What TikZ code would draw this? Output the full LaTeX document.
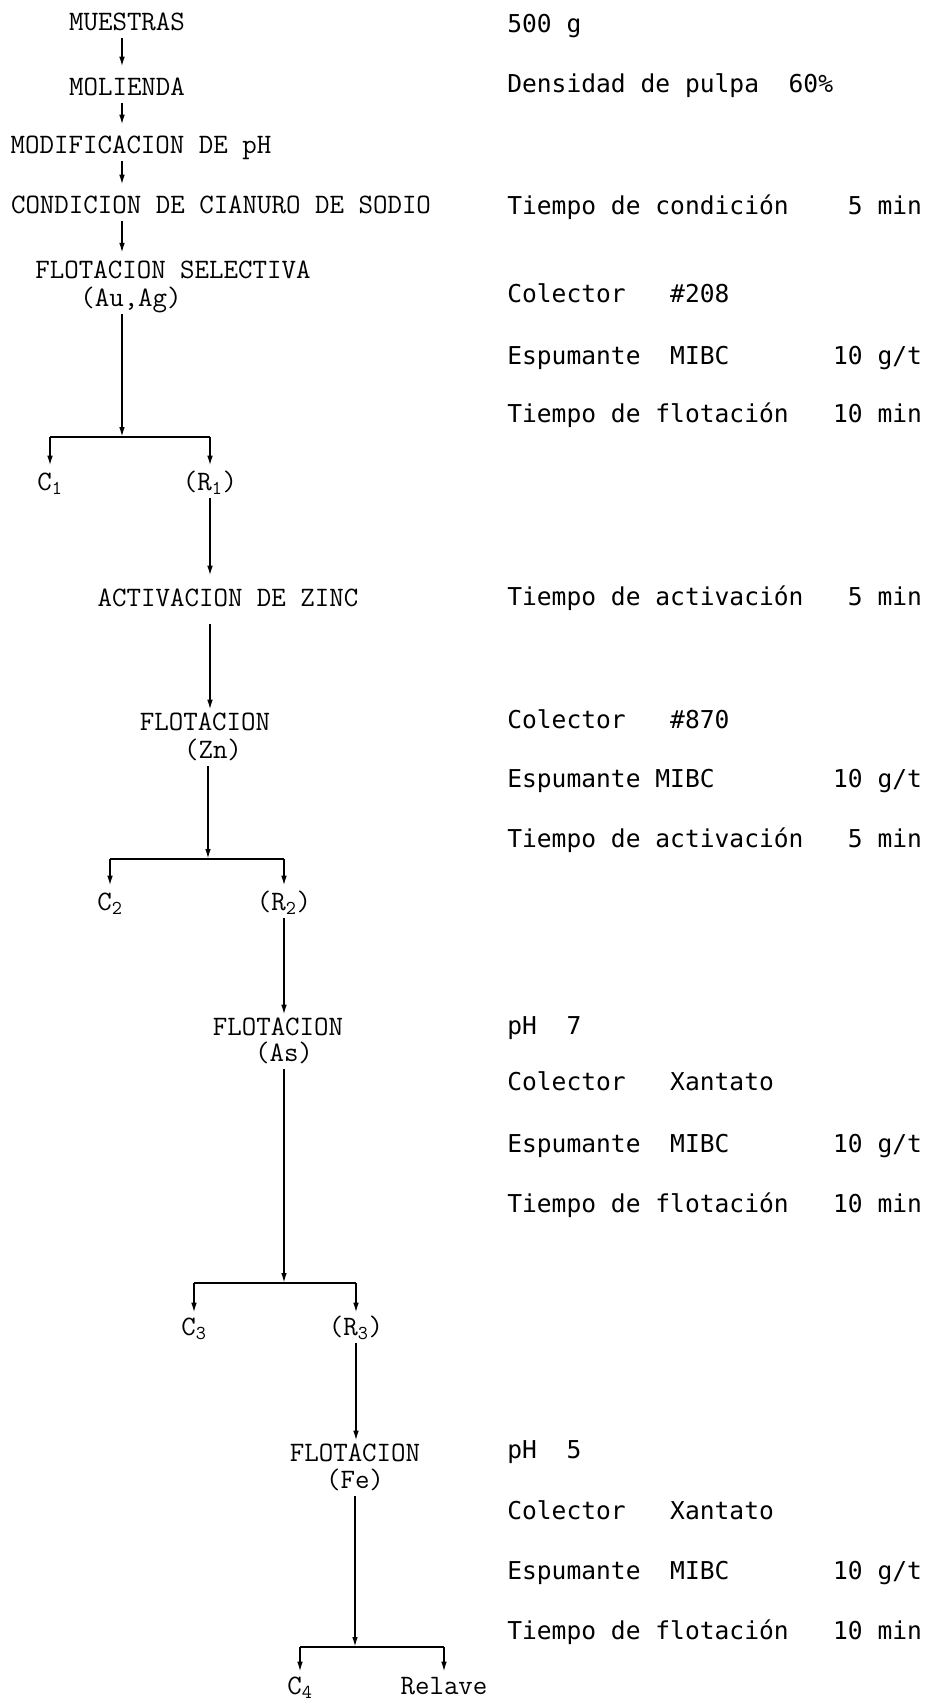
\documentclass[tikz,border=0pt]{standalone}
\usepackage{fontspec}
\usetikzlibrary{arrows.meta}
\newfontfamily\datofont{DejaVu Sans Mono}

\begin{document}
\begin{tikzpicture}[
        etapa/.style={font=\fontsize{20pt}{20pt}\selectfont\ttfamily, anchor=base, inner sep=0.1cm, text height=0.4cm, text depth=0.1cm},
        dato/.style={font=\fontsize{17.5pt}{17.5pt}\selectfont\datofont, anchor=base west, inner sep=0pt},
        linea/.style={line width=1.2pt},
        flecha/.style={linea, -{Latex[length=0.25cm,width=0.14cm]}}
    ]

        \useasboundingbox (0,0) rectangle (23.15,-42.625);

        % etapas del proceso
        \coordinate (eje1) at (3.05, 0);
        \node[etapa] (muestras) at (3.175, -0.75) {MUESTRAS};
        \node[etapa] (molienda) at (3.175, -2.375) {MOLIENDA};
        \node[etapa] (modif) at (3.525, -3.825) {MODIFICACION DE pH};
        \node[etapa] (cianuro) at (5.525, -5.325) {CONDICION DE CIANURO DE SODIO};
        \node[etapa] (selectiva) at (4.325, -6.95) {FLOTACION SELECTIVA};
        \node[etapa] (auag) at (3.275, -7.65) {(Au,Ag)};
        \coordinate (div1) at (3.05, -10.925);
        \node[etapa] (c1) at (1.25, -12.25) {C\textsubscript{1}};
        \node[etapa] (r1) at (5.25, -12.25) {(R\textsubscript{1})};

        \node[etapa] (act) at (5.7, -15.15) {ACTIVACION DE ZINC};
        \node[etapa] (flot2) at (5.125, -18.25) {FLOTACION};
        \node[etapa] (zn) at (5.325, -18.95) {(Zn)};
        \coordinate (div2) at (5.2, -21.475);
        \node[etapa] (c2) at (2.75, -22.75) {C\textsubscript{2}};
        \node[etapa] (r2) at (7.1, -22.75) {(R\textsubscript{2})};

        \node[etapa] (flot3) at (6.95, -25.875) {FLOTACION};
        \node[etapa] (as) at (7.1, -26.525) {(As)};
        \coordinate (div3) at (7.1, -32.075);
        \node[etapa] (c3) at (4.85, -33.375) {C\textsubscript{3}};
        \node[etapa] (r3) at (8.9, -33.375) {(R\textsubscript{3})};

        \node[etapa] (flot4) at (8.875, -36.525) {FLOTACION};
        \node[etapa] (fe) at (8.875, -37.2) {(Fe)};
        \coordinate (div4) at (8.875, -41.175);
        \node[etapa] (c4) at (7.5, -42.35) {C\textsubscript{4}};
        \node[etapa] (relave) at (11.1, -42.35) {Relave};

        % condiciones
        \node[dato] (p1) at (12.675, -0.8) {500~g};
        \node[dato] (p2) at (12.675, -2.3) {Densidad~de~pulpa~~60\%};
        \node[dato] (p3) at (12.675, -5.35) {Tiempo~de~condición~~~~5~min};
        \node[dato] (p4) at (12.675, -7.55) {Colector~~~\#208};
        \node[dato] (p5) at (12.675, -9.1) {Espumante~~MIBC~~~~~~~10~g/t};
        \node[dato] (p6) at (12.675, -10.55) {Tiempo~de~flotación~~~10~min};
        \node[dato] (p7) at (12.675, -15.125) {Tiempo~de~activación~~~5~min};
        \node[dato] (p8) at (12.675, -18.2) {Colector~~~\#870};
        \node[dato] (p9) at (12.675, -19.675) {Espumante~MIBC~~~~~~~~10~g/t};
        \node[dato] (p10) at (12.675, -21.175) {Tiempo~de~activación~~~5~min};
        \node[dato] (p11) at (12.675, -25.85) {pH~~7};
        \node[dato] (p12) at (12.675, -27.25) {Colector~~~Xantato};
        \node[dato] (p13) at (12.675, -28.8) {Espumante~~MIBC~~~~~~~10~g/t};
        \node[dato] (p14) at (12.675, -30.3) {Tiempo~de~flotación~~~10~min};
        \node[dato] (p15) at (12.675, -36.45) {pH~~5};
        \node[dato] (p16) at (12.675, -37.975) {Colector~~~Xantato};
        \node[dato] (p17) at (12.675, -39.475) {Espumante~~MIBC~~~~~~~10~g/t};
        \node[dato] (p18) at (12.675, -40.975) {Tiempo~de~flotación~~~10~min};

        % flechas
        \draw[flecha, shorten >=0.2cm] (muestras.south -| eje1) -- (molienda.north -| eje1);
        \draw[flecha, shorten >=0.2cm] (molienda.south -| eje1) -- (modif.north -| eje1);
        \draw[flecha, shorten >=0.2cm] (modif.south -| eje1) -- (cianuro.north -| eje1);
        \draw[flecha, shorten >=0.12cm] (cianuro.south -| eje1) -- (selectiva.north -| eje1);
        \draw[flecha] (auag.south -| div1) -- (div1);
        \draw[linea] (c1 |- div1) -- (r1 |- div1);
        \draw[flecha, shorten >=0.1cm] (c1 |- div1) -- (c1.north);
        \draw[flecha, shorten >=0.1cm] (r1 |- div1) -- (r1.north);

        \draw[flecha, shorten >=0.25cm] (r1.south) -- (act.north -| r1);
        \draw[flecha, shorten <=0.25cm] (act.south -| r1) -- (flot2.north -| r1);
        \draw[flecha] (zn.south -| div2) -- (div2);
        \draw[linea] (c2 |- div2) -- (r2 |- div2);
        \draw[flecha, shorten >=0.1cm] (c2 |- div2) -- (c2.north);
        \draw[flecha, shorten >=0.1cm] (r2 |- div2) -- (r2.north);

        \draw[flecha] (r2.south) -- (flot3.north -| r2);
        \draw[flecha] (as.south -| div3) -- (div3);
        \draw[linea] (c3 |- div3) -- (r3 |- div3);
        \draw[flecha, shorten >=0.05cm] (c3 |- div3) -- (c3.north);
        \draw[flecha, shorten >=0.05cm] (r3 |- div3) -- (r3.north);

        \draw[flecha] (r3.south) -- (flot4.north -| r3);
        \draw[flecha] (fe.south -| div4) -- (div4);
        \draw[linea] (c4 |- div4) -- (relave |- div4);
        \draw[flecha, shorten >=0.05cm] (c4 |- div4) -- (c4.north);
        \draw[flecha, shorten >=0.05cm] (relave |- div4) -- (relave.north);

    \end{tikzpicture}
\end{document}
